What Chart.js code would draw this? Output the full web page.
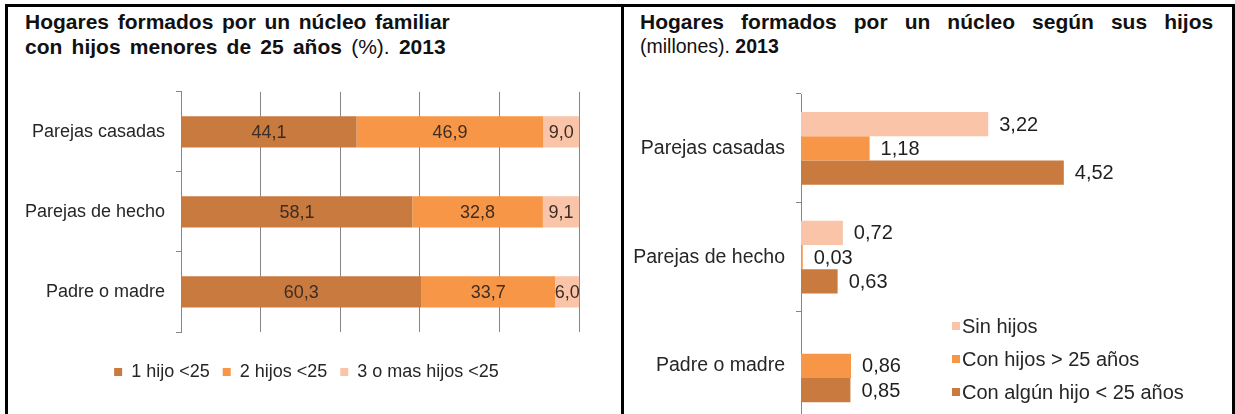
<!DOCTYPE html>
<html lang="es">
<head>
<meta charset="utf-8">
<title>Hogares formados por un núcleo familiar. 2013</title>
<script src="https://cdn.jsdelivr.net/npm/chart.js@4.4.1/dist/chart.umd.min.js"></script>
<style>
  html, body { margin:0; padding:0; background:#fff; }
  body { width:1235px; height:414px; overflow:hidden; position:relative; font-family:"Liberation Sans", Arial, sans-serif; }
  .linea { position:absolute; background:#000; }
  .titulo { position:absolute; color:#111; font-size:21px; line-height:25px; font-weight:bold; white-space:nowrap; }
  .titulo .n { font-weight:normal; }
  .caja { position:absolute; overflow:hidden; }
</style>
</head>
<body>
<div class="linea" style="left:5px;top:4px;width:1230px;height:3px"></div>
<div class="linea" style="left:5px;top:4px;width:3px;height:410px"></div>
<div class="linea" style="left:621px;top:4px;width:3px;height:410px"></div>
<div class="linea" style="left:1232px;top:4px;width:3px;height:410px"></div>

<div class="titulo" style="left:25px;top:9px">
  <div style="word-spacing:2.8px">Hogares formados por un núcleo familiar</div>
  <div style="word-spacing:3.4px">con hijos menores de 25 años <span class="n">(%).</span> 2013</div>
</div>
<div class="titulo" style="left:640px;top:9px">
  <div style="word-spacing:11.2px">Hogares formados por un núcleo según sus hijos</div>
  <div style="font-size:19.5px"><span class="n">(millones).</span> 2013</div>
</div>

<div class="caja" style="left:8px;top:70px;width:613px;height:344px">
  <canvas id="izq"></canvas>
</div>
<div class="caja" style="left:624px;top:70px;width:608px;height:344px">
  <div style="position:relative;width:608px;height:373px"><canvas id="der"></canvas></div>
</div>

<script>
// categorias (comunes a los dos graficos)
const categorias = ['Parejas casadas', 'Parejas de hecho', 'Padre o madre'];

// izquierda: % segun numero de hijos menores de 25
const nombresIzq = ['1 hijo <25', '2 hijos <25', '3 o mas hijos <25'];
const unHijo     = [44.1, 58.1, 60.3];
const dosHijos   = [46.9, 32.8, 33.7];
const tresOMas   = [9.0, 9.1, 6.0];
const ticksPct   = [0, 20, 40, 60, 80, 100];

// derecha: millones de hogares segun sus hijos
const nombresDer   = ['Sin hijos', 'Con hijos > 25 años', 'Con algún hijo < 25 años'];
const sinHijos     = [3.22, 0.72, null];
const hijosMayores = [1.18, 0.03, 0.86];
const hijoMenor    = [4.52, 0.63, 0.85];

const FUENTE = '"Liberation Sans", Arial, sans-serif';
const OSCURO = '#C97A3F', NARANJA = '#F79646', CLARO = '#F9C4A8';
const GRIS = '#868686';

/* etiquetas de valor sobre las barras */
const etiquetas = {
  id: 'etiquetas',
  afterDatasetsDraw(chart, args, op){
    const ctx = chart.ctx;
    ctx.save();
    ctx.font = op.font;
    ctx.fillStyle = op.color;
    ctx.textBaseline = 'middle';
    chart.data.datasets.forEach((ds, i)=>{
      chart.getDatasetMeta(i).data.forEach((barra, j)=>{
        const v = ds.data[j];
        if (v == null) return;
        const txt = v.toFixed(op.decimales).replace('.', ',');
        if (op.modo === 'centro'){
          ctx.textAlign = 'center';
          ctx.fillText(txt, (barra.x + barra.base)/2, barra.y + 1);
        } else {
          ctx.textAlign = 'left';
          ctx.fillText(txt, barra.x + op.separacion, barra.y + 1);
        }
      });
    });
    ctx.restore();
  }
};

/* leyenda dentro del area del grafico (derecha) */
const leyendaInterna = {
  id: 'leyendaInterna',
  afterDraw(chart, args, op){
    const ctx = chart.ctx;
    ctx.save();
    ctx.font = op.font;
    ctx.textBaseline = 'middle';
    ctx.textAlign = 'left';
    chart.data.datasets.forEach((ds, i)=>{
      const y = op.y + i*op.paso;
      ctx.fillStyle = ds.backgroundColor;
      ctx.fillRect(op.x, y - 4, 8, 8);
      ctx.fillStyle = op.color;
      ctx.fillText(ds.label, op.x + 10, y + 1);
    });
    ctx.restore();
  }
};

new Chart(document.getElementById('izq'), {
  type: 'bar',
  data: {
    labels: categorias,
    datasets: [
      { label: nombresIzq[0], data: unHijo,   backgroundColor: OSCURO },
      { label: nombresIzq[1], data: dosHijos, backgroundColor: NARANJA },
      { label: nombresIzq[2], data: tresOMas, backgroundColor: CLARO }
    ]
  },
  options: {
    indexAxis: 'y',
    responsive: true,
    maintainAspectRatio: false,
    animation: false,
    // el eje llega hasta 106,5 para dejar sitio a la leyenda centrada; las rejillas paran en 100
    layout: { padding: { top: 14, right: 16, bottom: 23, left: 0 } },
    datasets: { bar: { categoryPercentage: 1, barPercentage: 0.39, borderWidth: 0 } },
    scales: {
      x: {
        stacked: true, min: 0, max: 106.5,
        afterBuildTicks: s => { s.ticks = ticksPct.map(v => ({ value: v })); },
        afterFit: s => { s.height = 18; },
        ticks: { display: false },
        border: { display: false },
        grid: { color: GRIS, drawTicks: false }
      },
      y: {
        stacked: true,
        afterFit: s => { s.width = 173; },
        border: { display: true, color: GRIS },
        grid: { drawOnChartArea: false, drawTicks: true, tickLength: 5, color: GRIS },
        ticks: { color: '#262626', padding: 11, font: { family: FUENTE, size: 18 } }
      }
    },
    plugins: {
      legend: {
        position: 'bottom',
        labels: { boxWidth: 8, boxHeight: 8, padding: 13, color: '#262626', font: { family: FUENTE, size: 18 } }
      },
      tooltip: { enabled: false },
      etiquetas: { modo: 'centro', decimales: 1, color: '#3d2d24', font: '18px ' + FUENTE }
    }
  },
  plugins: [etiquetas]
});

new Chart(document.getElementById('der'), {
  type: 'bar',
  data: {
    labels: categorias,
    datasets: [
      { label: nombresDer[0], data: sinHijos,     backgroundColor: CLARO },
      { label: nombresDer[1], data: hijosMayores, backgroundColor: NARANJA },
      { label: nombresDer[2], data: hijoMenor,    backgroundColor: OSCURO }
    ]
  },
  options: {
    indexAxis: 'y',
    responsive: true,
    maintainAspectRatio: false,
    animation: false,
    layout: { padding: { top: 24, right: 24, bottom: 15, left: 0 } },
    datasets: { bar: { categoryPercentage: 0.67, barPercentage: 1, borderWidth: 0 } },
    scales: {
      x: { display: false, min: 0, max: 7 },
      y: {
        afterFit: s => { s.width = 177; },
        border: { display: true, color: GRIS },
        grid: { drawOnChartArea: false, drawTicks: true, tickLength: 5, color: GRIS },
        ticks: { color: '#262626', padding: 11, font: { family: FUENTE, size: 19.5 } }
      }
    },
    plugins: {
      legend: { display: false },
      tooltip: { enabled: false },
      etiquetas: { modo: 'fin', decimales: 2, separacion: 11, color: '#1f1f1f', font: '20px ' + FUENTE },
      leyendaInterna: { x: 328, y: 256, paso: 33, color: '#262626', font: '20px ' + FUENTE }
    }
  },
  plugins: [etiquetas, leyendaInterna]
});
</script>
</body>
</html>
